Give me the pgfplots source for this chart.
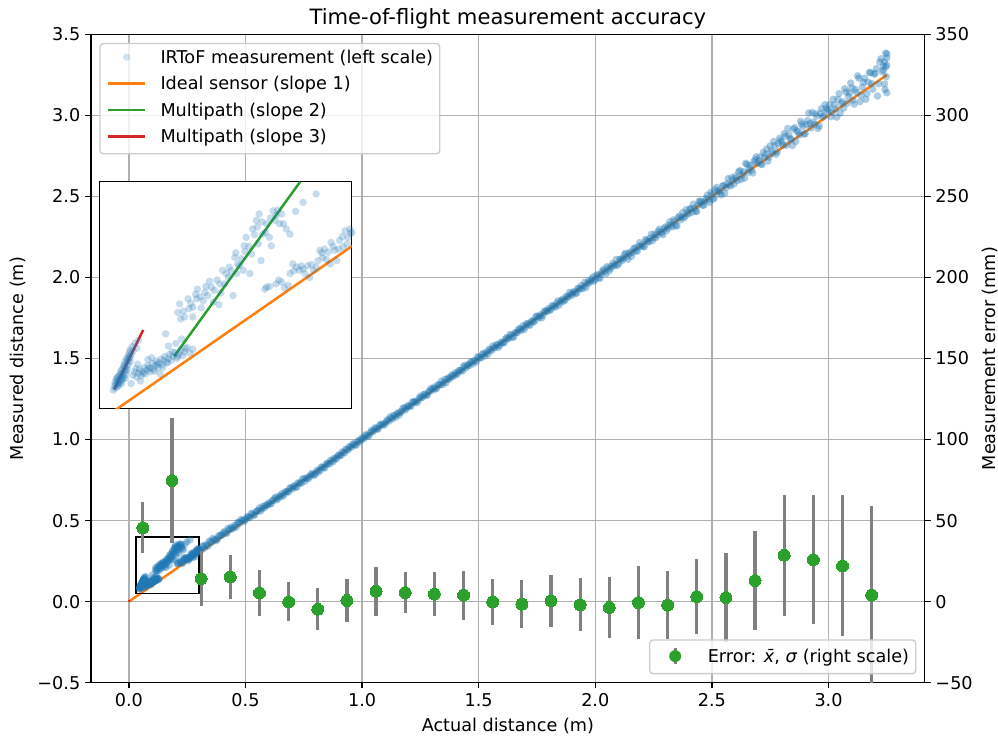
\documentclass[border=0pt]{standalone}
\usepackage{fontspec}
\setmainfont{DejaVu Sans}
\usepackage{pgfplots}
\usepackage{pgfplotstable}
\pgfplotsset{compat=1.18}

\definecolor{mplblue}{HTML}{1F77B4}
\definecolor{mplorange}{HTML}{FF7F0E}
\definecolor{mplgreen}{HTML}{2CA02C}
\definecolor{mplred}{HTML}{D62728}
\definecolor{gridgray}{HTML}{B0B0B0}
\definecolor{legedge}{HTML}{CCCCCC}

\newcommand{\lbl}{\fontsize{12.7}{15}\selectfont}

\pgfplotsset{
  every axis title shift=0pt,
  cloud/.style={only marks, mark=*, mark size=2.7pt,
    mark options={fill=mplblue, fill opacity=#1, draw opacity=0}, forget plot},
  cloud/.default=0.25,
  cloudimg/.style={legend image code/.code={%
    \path[draw=none, fill=none] (0pt,0pt) -- (27pt,0pt);
    \path[fill=mplblue, fill opacity=0.2, draw=none] (13.5pt,4.6pt) circle (2.7pt);}},
  errimg/.style={legend image code/.code={%
    \path[draw=none, fill=none] (0pt,0pt) -- (27pt,0pt);
    \path[draw=gray, line width=2.3pt, draw opacity=1] (13.5pt,-0.9pt) -- (13.5pt,10.1pt);
    \path[fill=mplgreen, fill opacity=1, draw=none] (13.5pt,4.6pt) circle (4.3pt);}},
  mplframe/.style={
    tick align=outside, major tick length=4.2pt,
    tick style={black, line width=0.96pt},
    axis line style={line width=0.96pt},
    ticklabel style={font=\lbl},
  },
  mpllegend/.style={
    legend cell align=left,
    legend style={draw=legedge, line width=0.96pt, rounded corners=2.4pt,
      fill=white, fill opacity=0.8, text opacity=1,
      inner xsep=4.8pt, inner ysep=5pt, row sep=6.6pt,
      /tikz/every odd column/.append style={column sep=10pt},
      nodes={font=\lbl, inner sep=0pt, text height=9.4pt, text depth=3pt, anchor=base west}},
  },
}

% near field, distances below 0.3 m (multipath region)
\pgfplotstableread{
x y
0.045 0.078
0.046 0.085
0.047 0.081
0.047 0.090
0.048 0.086
0.048 0.095
0.049 0.083
0.049 0.092
0.050 0.088
0.050 0.099
0.051 0.094
0.051 0.085
0.052 0.102
0.052 0.091
0.053 0.097
0.053 0.108
0.054 0.100
0.054 0.093
0.055 0.111
0.055 0.104
0.056 0.098
0.056 0.116
0.057 0.108
0.057 0.121
0.058 0.113
0.058 0.102
0.059 0.119
0.059 0.127
0.060 0.110
0.060 0.124
0.061 0.131
0.061 0.117
0.062 0.128
0.062 0.136
0.063 0.122
0.063 0.140
0.064 0.133
0.065 0.145
0.066 0.138
0.068 0.150
0.070 0.143
0.072 0.155
0.049 0.097
0.051 0.089
0.053 0.104
0.055 0.095
0.057 0.114
0.059 0.107
0.061 0.124
0.063 0.129
0.054 0.088
0.058 0.096
0.066 0.101
0.068 0.106
0.070 0.098
0.072 0.104
0.073 0.110
0.075 0.100
0.076 0.107
0.078 0.113
0.079 0.103
0.081 0.109
0.082 0.116
0.084 0.106
0.085 0.112
0.087 0.119
0.088 0.110
0.090 0.116
0.091 0.123
0.093 0.113
0.094 0.120
0.096 0.126
0.097 0.117
0.099 0.124
0.100 0.130
0.102 0.121
0.104 0.127
0.105 0.133
0.107 0.124
0.109 0.130
0.111 0.136
0.113 0.127
0.115 0.134
0.117 0.140
0.119 0.131
0.121 0.137
0.124 0.144
0.127 0.135
0.130 0.141
0.104 0.146
0.112 0.150
0.118 0.157
0.101 0.165
0.082 0.125
0.074 0.092
0.064 0.088
0.095 0.103
0.069 0.111
0.077 0.104
0.083 0.112
0.089 0.107
0.092 0.118
0.098 0.113
0.103 0.120
0.108 0.137
0.114 0.130
0.122 0.142
0.071 0.118
0.086 0.128
0.114 0.198
0.117 0.188
0.121 0.191
0.126 0.204
0.125 0.219
0.130 0.206
0.134 0.219
0.135 0.234
0.141 0.216
0.143 0.229
0.146 0.224
0.150 0.237
0.152 0.214
0.153 0.232
0.159 0.242
0.162 0.263
0.164 0.242
0.168 0.252
0.169 0.268
0.173 0.224
0.175 0.283
0.177 0.258
0.178 0.273
0.182 0.281
0.184 0.263
0.185 0.301
0.187 0.314
0.191 0.258
0.193 0.288
0.194 0.327
0.198 0.340
0.200 0.304
0.201 0.350
0.203 0.278
0.205 0.319
0.209 0.335
0.212 0.314
0.216 0.355
0.214 0.301
0.219 0.348
0.223 0.335
0.227 0.335
0.234 0.319
0.248 0.368
0.262 0.381
0.116 0.211
0.130 0.191
0.120 0.200
0.128 0.212
0.133 0.226
0.138 0.222
0.144 0.238
0.148 0.246
0.156 0.248
0.160 0.228
0.166 0.258
0.171 0.262
0.176 0.290
0.180 0.270
0.186 0.292
0.190 0.300
0.196 0.318
0.199 0.330
0.204 0.338
0.208 0.322
0.213 0.344
0.218 0.340
0.221 0.356
0.225 0.350
0.230 0.327
0.240 0.354
0.158 0.210
0.139 0.205
0.207 0.234
0.219 0.242
0.225 0.245
0.232 0.240
0.234 0.258
0.241 0.268
0.244 0.263
0.248 0.265
0.253 0.270
0.255 0.252
0.259 0.263
0.264 0.278
0.266 0.294
0.269 0.283
0.271 0.296
0.275 0.291
0.278 0.306
0.282 0.294
0.284 0.278
0.287 0.309
0.291 0.299
0.293 0.324
0.296 0.314
0.298 0.327
0.302 0.317
0.305 0.312
0.209 0.237
0.237 0.273
0.277 0.273
0.212 0.238
0.222 0.248
0.228 0.236
0.238 0.262
0.246 0.270
0.250 0.258
0.257 0.272
0.262 0.268
0.268 0.290
0.273 0.280
0.280 0.300
0.286 0.296
0.290 0.315
0.295 0.304
0.299 0.320
}\nearpts

% far field, first pass
\pgfplotstableread{
x y
0.30 0.322
0.31 0.318
0.32 0.347
0.33 0.344
0.34 0.343
0.35 0.369
0.36 0.391
0.37 0.382
0.38 0.386
0.39 0.407
0.40 0.411
0.41 0.434
0.42 0.422
0.43 0.445
0.44 0.460
0.45 0.459
0.46 0.459
0.47 0.488
0.48 0.506
0.49 0.503
0.50 0.507
0.51 0.526
0.52 0.521
0.53 0.542
0.54 0.536
0.55 0.559
0.56 0.579
0.57 0.573
0.58 0.578
0.59 0.598
0.60 0.610
0.61 0.604
0.62 0.624
0.63 0.645
0.64 0.637
0.65 0.652
0.66 0.650
0.67 0.677
0.68 0.680
0.69 0.702
0.70 0.695
0.71 0.716
0.72 0.706
0.73 0.731
0.74 0.732
0.75 0.759
0.76 0.758
0.77 0.759
0.78 0.783
0.79 0.784
0.80 0.788
0.81 0.812
0.82 0.813
0.83 0.829
0.84 0.824
0.85 0.855
0.86 0.851
0.87 0.867
0.88 0.884
0.89 0.880
0.90 0.906
0.91 0.902
0.92 0.921
0.93 0.941
0.94 0.936
0.95 0.953
0.96 0.974
0.97 0.968
0.98 0.987
0.99 0.984
1.00 1.012
1.01 1.010
1.02 1.028
1.03 1.025
1.04 1.057
1.05 1.054
1.06 1.070
1.07 1.067
1.08 1.095
1.09 1.096
1.10 1.101
1.11 1.123
1.12 1.140
1.13 1.128
1.14 1.147
1.15 1.161
1.16 1.152
1.17 1.175
1.18 1.196
1.19 1.193
1.20 1.209
1.21 1.206
1.22 1.234
1.23 1.236
1.24 1.240
1.25 1.269
1.26 1.262
1.27 1.280
1.28 1.274
1.29 1.302
1.30 1.304
1.31 1.325
1.32 1.317
1.33 1.338
1.34 1.361
1.35 1.351
1.36 1.351
1.37 1.381
1.38 1.386
1.39 1.389
1.40 1.413
1.41 1.410
1.42 1.427
1.43 1.423
1.44 1.458
1.45 1.453
1.46 1.458
1.47 1.480
1.48 1.485
1.49 1.479
1.50 1.508
1.51 1.505
1.52 1.532
1.53 1.531
1.54 1.526
1.55 1.554
1.56 1.577
1.57 1.567
1.58 1.586
1.59 1.581
1.60 1.602
1.61 1.598
1.62 1.630
1.63 1.626
1.64 1.645
1.65 1.632
1.66 1.660
1.67 1.679
1.68 1.673
1.69 1.703
1.70 1.697
1.71 1.717
1.72 1.705
1.73 1.734
1.74 1.732
1.75 1.762
1.76 1.759
1.77 1.750
1.78 1.786
1.79 1.791
1.80 1.810
1.81 1.804
1.82 1.823
1.83 1.817
1.84 1.856
1.85 1.848
1.86 1.867
1.87 1.860
1.88 1.880
1.89 1.909
1.90 1.891
1.91 1.915
1.92 1.903
1.93 1.932
1.94 1.951
1.95 1.945
1.96 1.938
1.97 1.978
1.98 1.979
1.99 2.004
2.00 1.988
2.01 2.016
2.02 1.995
2.03 2.039
2.04 2.036
2.05 2.067
2.06 2.041
2.07 2.071
2.08 2.072
2.09 2.112
2.10 2.085
2.11 2.114
2.12 2.118
2.13 2.150
2.14 2.112
2.15 2.157
2.16 2.154
2.17 2.183
2.18 2.162
2.19 2.215
2.20 2.203
2.21 2.189
2.22 2.230
2.23 2.221
2.24 2.267
2.25 2.246
2.26 2.246
2.27 2.286
2.28 2.280
2.29 2.264
2.30 2.312
2.31 2.303
2.32 2.344
2.33 2.312
2.34 2.345
2.35 2.319
2.36 2.379
2.37 2.371
2.38 2.368
2.39 2.419
2.40 2.392
2.41 2.425
2.42 2.453
2.43 2.409
2.44 2.446
2.45 2.472
2.46 2.446
2.47 2.470
2.48 2.508
2.49 2.464
2.50 2.511
2.51 2.491
2.52 2.556
2.53 2.534
2.54 2.510
2.55 2.567
2.56 2.554
2.57 2.611
2.58 2.565
2.59 2.599
2.60 2.625
2.61 2.598
2.62 2.660
2.63 2.633
2.64 2.613
2.65 2.698
2.66 2.675
2.67 2.662
2.68 2.714
2.69 2.745
2.70 2.720
2.71 2.700
2.72 2.772
2.73 2.761
2.74 2.718
2.75 2.812
2.76 2.768
2.77 2.814
2.78 2.775
2.79 2.860
2.80 2.835
2.81 2.888
2.82 2.817
2.83 2.880
2.84 2.852
2.85 2.916
2.86 2.840
2.87 2.898
2.88 2.964
2.89 2.932
2.90 2.888
2.91 2.968
2.92 2.950
2.93 3.018
2.94 2.945
2.95 2.996
2.96 2.935
2.97 3.042
2.98 2.998
2.99 3.044
3.00 3.036
3.01 2.992
3.02 3.100
3.03 3.040
3.04 3.100
3.05 3.015
3.06 3.085
3.07 3.165
3.08 3.075
3.09 3.138
3.10 3.170
3.11 3.070
3.12 3.142
3.13 3.230
3.14 3.125
3.15 3.205
3.16 3.100
3.17 3.205
3.18 3.265
3.19 3.162
3.20 3.260
3.21 3.120
3.22 3.330
3.23 3.270
3.24 3.195
3.25 3.380
}\bandA

% far field, second pass
\pgfplotstableread{
x y
0.305 0.317
0.315 0.340
0.325 0.330
0.335 0.353
0.345 0.374
0.355 0.365
0.365 0.381
0.375 0.376
0.385 0.406
0.395 0.409
0.405 0.424
0.415 0.422
0.425 0.453
0.435 0.447
0.445 0.449
0.455 0.471
0.465 0.488
0.475 0.483
0.485 0.499
0.495 0.495
0.505 0.518
0.515 0.518
0.525 0.545
0.535 0.532
0.545 0.555
0.555 0.561
0.565 0.559
0.575 0.589
0.585 0.590
0.595 0.594
0.605 0.603
0.615 0.623
0.625 0.638
0.635 0.628
0.645 0.650
0.655 0.666
0.665 0.661
0.675 0.678
0.685 0.676
0.695 0.701
0.705 0.709
0.715 0.706
0.725 0.733
0.735 0.732
0.745 0.757
0.755 0.743
0.765 0.767
0.775 0.770
0.785 0.792
0.795 0.780
0.805 0.804
0.815 0.801
0.825 0.831
0.835 0.827
0.845 0.846
0.855 0.850
0.865 0.873
0.875 0.862
0.885 0.883
0.895 0.898
0.905 0.902
0.915 0.924
0.925 0.918
0.935 0.939
0.945 0.957
0.955 0.954
0.965 0.971
0.975 0.965
0.985 0.995
0.995 0.997
1.005 1.006
1.015 1.029
1.025 1.021
1.035 1.044
1.045 1.048
1.055 1.073
1.065 1.064
1.075 1.086
1.085 1.090
1.095 1.089
1.105 1.115
1.115 1.114
1.125 1.131
1.135 1.150
1.145 1.138
1.155 1.164
1.165 1.169
1.175 1.193
1.185 1.182
1.195 1.207
1.205 1.205
1.215 1.231
1.225 1.230
1.235 1.227
1.245 1.256
1.255 1.258
1.265 1.279
1.275 1.273
1.285 1.293
1.295 1.315
1.305 1.315
1.315 1.311
1.325 1.338
1.335 1.337
1.345 1.339
1.355 1.372
1.365 1.372
1.375 1.373
1.385 1.399
1.395 1.398
1.405 1.400
1.415 1.426
1.425 1.427
1.435 1.450
1.445 1.442
1.455 1.463
1.465 1.477
1.475 1.467
1.485 1.489
1.495 1.511
1.505 1.503
1.515 1.525
1.525 1.515
1.535 1.541
1.545 1.558
1.555 1.549
1.565 1.566
1.575 1.584
1.585 1.570
1.595 1.598
1.605 1.597
1.615 1.621
1.625 1.622
1.635 1.649
1.645 1.632
1.655 1.658
1.665 1.660
1.675 1.686
1.685 1.683
1.695 1.679
1.705 1.714
1.715 1.709
1.725 1.728
1.735 1.724
1.745 1.759
1.755 1.751
1.765 1.770
1.775 1.766
1.785 1.796
1.795 1.792
1.805 1.798
1.815 1.828
1.825 1.824
1.835 1.841
1.845 1.830
1.855 1.859
1.865 1.854
1.875 1.884
1.885 1.880
1.895 1.897
1.905 1.908
1.915 1.903
1.925 1.934
1.935 1.929
1.945 1.931
1.955 1.971
1.965 1.962
1.975 1.967
1.985 1.991
1.995 1.977
2.005 2.015
2.015 1.999
2.025 2.023
2.035 2.050
2.045 2.022
2.055 2.059
2.065 2.055
2.075 2.087
2.085 2.080
2.095 2.075
2.105 2.113
2.115 2.104
2.125 2.143
2.135 2.130
2.145 2.147
2.155 2.131
2.165 2.179
2.175 2.166
2.185 2.191
2.195 2.192
2.205 2.192
2.215 2.235
2.225 2.220
2.235 2.243
2.245 2.227
2.255 2.268
2.265 2.263
2.275 2.299
2.285 2.275
2.295 2.301
2.305 2.289
2.315 2.324
2.325 2.322
2.335 2.356
2.345 2.320
2.355 2.369
2.365 2.356
2.375 2.402
2.385 2.379
2.395 2.398
2.405 2.423
2.415 2.402
2.425 2.429
2.435 2.407
2.445 2.470
2.455 2.464
2.465 2.446
2.475 2.488
2.485 2.481
2.495 2.526
2.505 2.483
2.515 2.542
2.525 2.531
2.535 2.523
2.545 2.565
2.555 2.520
2.565 2.579
2.575 2.572
2.585 2.615
2.595 2.578
2.605 2.613
2.615 2.653
2.625 2.605
2.635 2.653
2.645 2.705
2.655 2.650
2.665 2.693
2.675 2.645
2.685 2.727
2.695 2.705
2.705 2.743
2.715 2.697
2.725 2.740
2.735 2.793
2.745 2.743
2.755 2.781
2.765 2.840
2.775 2.761
2.785 2.825
2.795 2.847
2.805 2.815
2.815 2.873
2.825 2.920
2.835 2.857
2.845 2.815
2.855 2.925
2.865 2.905
2.875 2.880
2.885 2.947
2.895 2.885
2.905 2.945
2.915 3.015
2.925 2.923
2.935 2.960
2.945 3.011
2.955 2.920
2.965 3.013
2.975 2.990
2.985 3.067
2.995 3.027
3.005 3.067
3.015 3.020
3.025 3.065
3.035 2.990
3.045 3.135
3.055 3.075
3.065 3.045
3.075 3.145
3.085 3.117
3.095 3.200
3.105 3.095
3.115 3.160
3.125 3.245
3.135 3.085
3.145 3.175
3.155 3.230
3.165 3.135
3.175 3.265
3.185 3.197
3.195 3.255
3.205 3.290
3.215 3.195
3.225 3.350
3.235 3.305
3.245 3.385
3.240 3.330
3.245 3.300
3.250 3.355
3.235 3.280
3.250 3.310
3.248 3.240
3.242 3.160
3.250 3.140
}\bandB

% binned error: mean (mm)
\pgfplotstableread{
x m
0.060 45.5
0.185 74.7
0.310 14.2
0.435 15.2
0.560 5.4
0.685 -0.2
0.810 -4.7
0.935 0.7
1.060 6.4
1.185 5.6
1.310 4.6
1.435 4.0
1.560 -0.2
1.685 -1.6
1.810 0.5
1.935 -2.0
2.060 -3.6
2.185 -0.6
2.310 -2.2
2.435 3.1
2.560 2.5
2.685 13.0
2.810 28.6
2.935 25.9
3.060 22.0
3.185 4.0
}\errmean

% one standard deviation either side of the mean (mm)
\pgfplotstableread{
x y
0.060 29.8
0.060 61.2
nan nan
0.185 35.9
0.185 113.5
nan nan
0.310 -2.8
0.310 31.2
nan nan
0.435 1.9
0.435 28.5
nan nan
0.560 -8.6
0.560 19.4
nan nan
0.685 -12.2
0.685 11.8
nan nan
0.810 -17.7
0.810 8.3
nan nan
0.935 -12.8
0.935 14.2
nan nan
1.060 -8.6
1.060 21.4
nan nan
1.185 -6.9
1.185 18.1
nan nan
1.310 -8.9
1.310 18.1
nan nan
1.435 -11.2
1.435 19.2
nan nan
1.560 -14.4
1.560 14.0
nan nan
1.685 -16.4
1.685 13.2
nan nan
1.810 -15.5
1.810 16.5
nan nan
1.935 -18.4
1.935 14.4
nan nan
2.060 -22.3
2.060 15.1
nan nan
2.185 -22.9
2.185 21.7
nan nan
2.310 -23.2
2.310 18.8
nan nan
2.435 -19.9
2.435 26.1
nan nan
2.560 -25.1
2.560 30.1
nan nan
2.685 -17.5
2.685 43.5
nan nan
2.810 -8.7
2.810 65.9
nan nan
2.935 -13.7
2.935 65.5
nan nan
3.060 -21.5
3.060 65.5
nan nan
3.185 -51.0
3.185 59.0
}\errbars

\begin{document}
\begin{tikzpicture}
\useasboundingbox (-65.5pt,-39.8pt) rectangle (653.06pt,491.5pt);

% main axis: measured vs actual distance
\begin{axis}[
  at={(0pt,0pt)}, anchor=south west,
  scale only axis, width=600.3pt, height=466.7pt,
  xmin=-0.1625, xmax=3.4125, ymin=-0.5, ymax=3.5,
  xtick={0,0.5,1,1.5,2,2.5,3},
  xticklabels={0.0,0.5,1.0,1.5,2.0,2.5,3.0},
  ytick={-0.5,0,0.5,1,1.5,2,2.5,3,3.5},
  yticklabels={−0.5,0.0,0.5,1.0,1.5,2.0,2.5,3.0,3.5},
  tick pos=left, mplframe,
  grid=major, grid style={gridgray, line width=0.96pt},
  title={Time-of-flight measurement accuracy},
  title style={font=\fontsize{15.2}{18}\selectfont, at={(axis description cs:0.5,1)},
    anchor=base, yshift=7pt, inner sep=0pt},
  xlabel={Actual distance (m)},
  xlabel style={font=\lbl, at={(axis description cs:0.5,0)}, anchor=base,
    yshift=-35pt, inner sep=0pt},
  ylabel={Measured distance (m)},
  ylabel style={font=\lbl, at={(axis description cs:-0.0876,0.5)}, anchor=center, inner sep=0pt},
  mpllegend,
  legend style={at={(axis description cs:0.01,0.987)}, anchor=north west},
  legend image code/.code={%
    \path[draw=none, fill=none] (0pt,0pt) -- (27pt,0pt);
    \draw[#1] (0pt,4.6pt) -- (27pt,4.6pt);},
]
  \addplot[cloud=0.38] table {\nearpts};
  \addplot[cloud=0.38] table {\bandA};
  \addplot[cloud=0.38] table {\bandB};
  \addplot[mplorange, line width=1.8pt, forget plot] coordinates {(0,0) (3.25,3.25)};
  \addplot[mplred, line width=1.8pt, forget plot] coordinates {(0,0) (0.003,0.009)};
  \draw[black, line width=1.2pt] (axis cs:0.03,0.05) rectangle (axis cs:0.30,0.40);

  \addlegendimage{cloudimg}
  \addlegendentry{IRToF measurement (left scale)}
  \addlegendimage{mplorange, line width=1.8pt}
  \addlegendentry{Ideal sensor (slope 1)}
  \addlegendimage{mplgreen, line width=1.8pt}
  \addlegendentry{Multipath (slope 2)}
  \addlegendimage{mplred, line width=1.8pt}
  \addlegendentry{Multipath (slope 3)}
\end{axis}

% twin axis: error statistics in mm
\begin{axis}[
  at={(0pt,0pt)}, anchor=south west,
  scale only axis, width=600.3pt, height=466.7pt,
  xmin=-0.1625, xmax=3.4125, ymin=-50, ymax=350,
  axis x line=none, axis y line*=right,
  ytick={-50,0,50,100,150,200,250,300,350},
  yticklabels={−50,0,50,100,150,200,250,300,350},
  mplframe,
  ylabel={Measurement error (mm)},
  ylabel style={font=\lbl, at={(axis description cs:1.0783,0.5)}, anchor=center, inner sep=0pt},
  mpllegend,
  legend style={at={(axis description cs:0.99,0.0129)}, anchor=south east},
  unbounded coords=jump,
]
  \addplot[gray, line width=2.3pt, forget plot] table {\errbars};
  \addplot[errimg, only marks, mark=*, mark size=4.3pt,
    mark options={fill=mplgreen, draw=mplgreen, line width=0pt}]
    table[x=x, y=m] {\errmean};
  \addlegendentry{Error: \textit{x̄}, \textit{σ} (right scale)}
\end{axis}

% inset: zoom on the multipath region
\begin{axis}[
  at={(6pt,197.6pt)}, anchor=south west,
  scale only axis, width=181.7pt, height=163.1pt,
  xmin=0.03, xmax=0.30, ymin=0.05, ymax=0.40,
  ticks=none, axis line style={line width=0.96pt},
  axis background/.style={fill=white},
]
  \addplot[cloud] table {\nearpts};
  \addplot[cloud] table {\bandA};
  \addplot[cloud] table {\bandB};
  \addplot[mplorange, line width=1.8pt] coordinates {(0,0) (0.35,0.35)};
  \addplot[mplgreen, line width=1.8pt] coordinates {(0.110,0.130) (0.245,0.400)};
  \addplot[mplred, line width=1.8pt] coordinates {(0.046,0.079) (0.077,0.171)};
\end{axis}
\end{tikzpicture}
\end{document}
